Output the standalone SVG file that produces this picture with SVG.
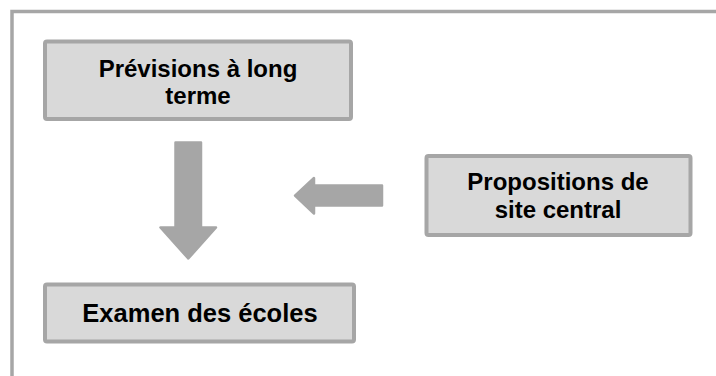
<svg xmlns="http://www.w3.org/2000/svg" width="716" height="376" viewBox="0 0 716 376">
<style>
.box{fill:#d9d9d9;stroke:#a6a6a6;stroke-width:4;}
.lbl{font-family:"Liberation Sans",Arial,sans-serif;font-weight:bold;font-size:24px;fill:#000;text-anchor:middle;}
.arr{fill:#a6a6a6;stroke:#a6a6a6;stroke-width:2.5;stroke-linejoin:round;}
</style>
<rect x="0" y="0" width="716" height="376" fill="#ffffff"/>
<rect x="12" y="11.5" width="730" height="390" fill="none" stroke="#a6a6a6" stroke-width="3.5"/>
<g id="node-previsions">
<rect class="box" x="45" y="41.5" width="306" height="77.5" rx="2"/>
<text class="lbl" x="198" y="77">Prévisions à long</text>
<text class="lbl" x="198" y="104">terme</text>
</g>
<g id="node-propositions">
<rect class="box" x="426.5" y="156" width="264" height="79" rx="2"/>
<text class="lbl" x="558" y="190">Propositions de</text>
<text class="lbl" x="558" y="218">site central</text>
</g>
<g id="node-examen">
<rect class="box" x="45" y="284.5" width="309" height="57" rx="2"/>
<text class="lbl" x="200" y="322" style="font-size:25.5px">Examen des écoles</text>
</g>
<g id="connectors">
<polygon class="arr" points="175.5,142.5 201,142.5 201,227.5 216,227.5 188.3,258.5 160.5,227.5 175.5,227.5"/>
<polygon class="arr" points="382,185.5 382,205.5 314,205.5 314,213.5 295,195.7 314,178 314,185.5"/>
</g>
</svg>
